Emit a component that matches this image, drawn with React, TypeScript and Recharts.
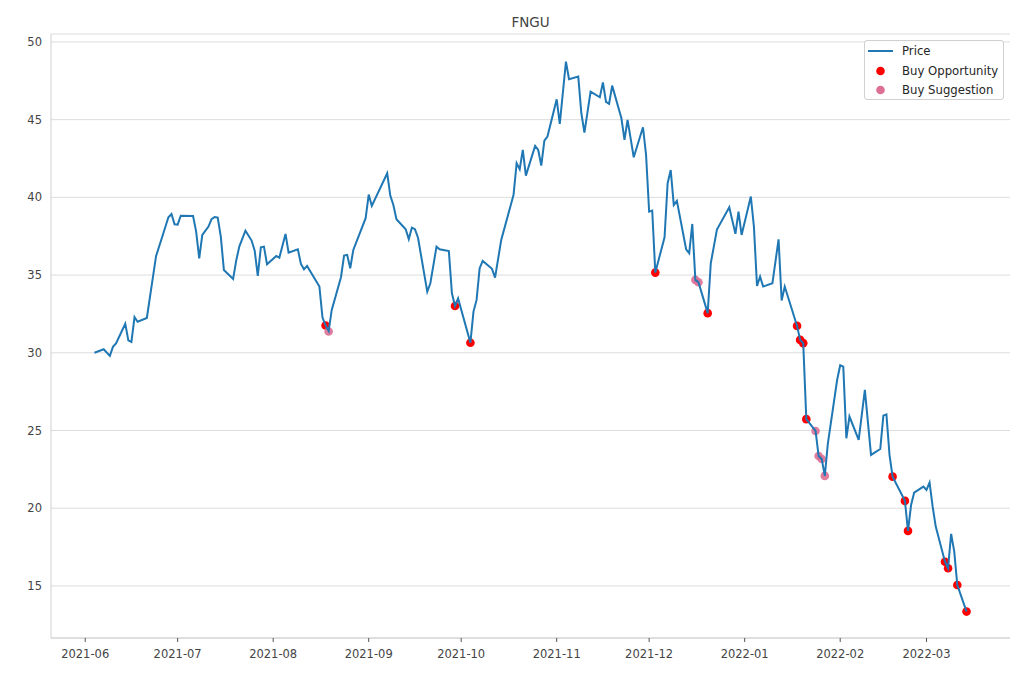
import React from "react";
import {
  ComposedChart,
  Line,
  XAxis,
  YAxis,
  CartesianGrid,
  Legend,
} from "recharts";

const priceDates = [
  "2021-06-04","2021-06-07","2021-06-09","2021-06-10","2021-06-11","2021-06-14","2021-06-15","2021-06-16","2021-06-17","2021-06-18",
  "2021-06-21","2021-06-24","2021-06-26","2021-06-28","2021-06-29","2021-06-30","2021-07-01","2021-07-02","2021-07-06","2021-07-07",
  "2021-07-08","2021-07-09","2021-07-11","2021-07-12","2021-07-13","2021-07-14","2021-07-15","2021-07-16","2021-07-19","2021-07-20",
  "2021-07-21","2021-07-23","2021-07-25","2021-07-26","2021-07-27","2021-07-28","2021-07-29","2021-07-30","2021-08-02","2021-08-03",
  "2021-08-05","2021-08-06","2021-08-09","2021-08-10","2021-08-11","2021-08-12","2021-08-16","2021-08-17","2021-08-18","2021-08-19",
  "2021-08-20","2021-08-23","2021-08-24","2021-08-25","2021-08-26","2021-08-27","2021-08-31","2021-09-01","2021-09-02","2021-09-07",
  "2021-09-08","2021-09-09","2021-09-10","2021-09-13","2021-09-14","2021-09-15","2021-09-16","2021-09-17","2021-09-20","2021-09-21",
  "2021-09-23","2021-09-24","2021-09-27","2021-09-28","2021-09-29","2021-09-30","2021-10-04","2021-10-05","2021-10-06","2021-10-07",
  "2021-10-08","2021-10-11","2021-10-12","2021-10-14","2021-10-18","2021-10-19","2021-10-20","2021-10-21","2021-10-22","2021-10-25",
  "2021-10-26","2021-10-27","2021-10-28","2021-10-29","2021-11-01","2021-11-02","2021-11-04","2021-11-05","2021-11-08","2021-11-09",
  "2021-11-10","2021-11-12","2021-11-15","2021-11-16","2021-11-17","2021-11-18","2021-11-19","2021-11-22","2021-11-23","2021-11-24",
  "2021-11-26","2021-11-29","2021-11-30","2021-12-01","2021-12-02","2021-12-03","2021-12-06","2021-12-07","2021-12-08","2021-12-09",
  "2021-12-10","2021-12-13","2021-12-14","2021-12-15","2021-12-16","2021-12-17","2021-12-20","2021-12-21","2021-12-23","2021-12-27",
  "2021-12-29","2021-12-30","2021-12-31","2022-01-03","2022-01-04","2022-01-05","2022-01-06","2022-01-07","2022-01-10","2022-01-12",
  "2022-01-13","2022-01-14","2022-01-18","2022-01-19","2022-01-20","2022-01-21","2022-01-24","2022-01-25","2022-01-26","2022-01-27",
  "2022-01-28","2022-01-31","2022-02-01","2022-02-02","2022-02-03","2022-02-04","2022-02-07","2022-02-09","2022-02-11","2022-02-14",
  "2022-02-15","2022-02-16","2022-02-17","2022-02-18","2022-02-22","2022-02-23","2022-02-24","2022-02-25","2022-02-28","2022-03-01",
  "2022-03-02","2022-03-03","2022-03-04","2022-03-07","2022-03-08","2022-03-09","2022-03-10","2022-03-11","2022-03-14",
];

const priceValues = [
  30.0, 30.23, 29.8, 30.38, 30.6, 31.87, 30.8, 30.7, 32.3, 32.0,
  32.24, 36.23, 37.47, 38.72, 38.93, 38.27, 38.25, 38.82, 38.8, 37.8,
  36.08, 37.58, 38.12, 38.6, 38.74, 38.7, 37.47, 35.33, 34.75, 35.93,
  36.83, 37.86, 37.22, 36.57, 34.94, 36.79, 36.83, 35.7, 36.23, 36.12,
  37.65, 36.44, 36.66, 35.72, 35.37, 35.59, 34.26, 32.27, 31.76, 31.4,
  32.76, 34.86, 36.25, 36.3, 35.44, 36.62, 38.66, 40.18, 39.45, 41.55,
  40.11, 39.51, 38.59, 37.95, 37.31, 38.05, 37.95, 37.4, 33.93, 34.47,
  36.83, 36.66, 36.55, 33.83, 33.01, 33.5, 30.65, 32.65, 33.4, 35.44,
  35.91, 35.4, 34.84, 37.26, 40.16, 42.2, 41.81, 43.05, 41.4, 43.31,
  43.05, 42.04, 43.65, 43.91, 46.31, 44.72, 48.73, 47.6, 47.77, 45.41,
  44.17, 46.8, 46.44, 47.4, 46.14, 46.01, 47.19, 45.09, 43.7, 44.98,
  42.58, 44.51, 42.73, 39.08, 39.15, 35.16, 37.43, 40.91, 41.76, 39.51,
  39.77, 36.66, 36.41, 38.29, 34.69, 34.54, 32.55, 35.76, 37.93, 39.36,
  37.65, 39.08, 37.58, 40.05, 38.12, 34.3, 34.9, 34.26, 34.47, 37.3,
  33.36, 34.26, 31.73, 30.83, 30.62, 25.73, 24.97, 23.36, 23.17, 22.08,
  24.18, 28.25, 29.2, 29.11, 24.5, 25.9, 24.39, 27.61, 23.43, 23.81,
  25.96, 26.04, 23.43, 22.03, 20.47, 18.54, 20.21, 21.0, 21.39, 21.18,
  21.65, 20.1, 18.82, 16.56, 16.14, 18.35, 17.22, 15.06, 13.35,
];

const opportunityDates = [
  "2021-08-18","2021-09-29","2021-10-04","2021-12-03","2021-12-20","2022-01-18","2022-01-19","2022-01-20",
  "2022-01-21","2022-02-18","2022-02-22","2022-02-23","2022-03-07","2022-03-08","2022-03-11","2022-03-14",
];
const opportunityValues = [
  31.76, 33.01, 30.65, 35.16, 32.55, 31.73, 30.83, 30.62,
  25.73, 22.03, 20.47, 18.54, 16.56, 16.14, 15.06, 13.35,
];

const suggestionDates = [
  "2021-08-19","2021-12-16","2021-12-17","2022-01-24","2022-01-25","2022-01-26","2022-01-27",
];
const suggestionValues = [31.37, 34.69, 34.54, 24.97, 23.36, 23.17, 22.08];

const xTickLabels = [
  "2021-06","2021-07","2021-08","2021-09","2021-10","2021-11","2021-12","2022-01","2022-02","2022-03",
];
const yTicks = [15, 20, 25, 30, 35, 40, 45, 50];

const DAY = 86400000;
const toTime = (d: string) => Date.parse(d);
const base = Date.parse("2021-06-01");
const xDomain = [base - 11.1 * DAY, base + 300.1 * DAY];
const yDomain = [11.65, 50.51];
const xTicks = xTickLabels.map((l) => Date.parse(l + "-01"));

const priceData = priceDates.map((d, i) => ({ t: toTime(d), price: priceValues[i] }));
const oppData = opportunityDates.map((d, i) => ({ t: toTime(d), price: opportunityValues[i] }));
const sugData = suggestionDates.map((d, i) => ({ t: toTime(d), price: suggestionValues[i] }));

const fmtMonth = (v: number) => {
  const dt = new Date(v);
  const m = dt.getUTCMonth() + 1;
  return `${dt.getUTCFullYear()}-${m < 10 ? "0" + m : m}`;
};

const FONT = "DejaVu Sans, sans-serif";
const TEXT = "#444444";
const LINE_COLOR = "#1f77b4";
const OPP_COLOR = "#ff0000";
const SUG_COLOR = "#db7093";

const dot = (color: string, opacity: number) => (props: any) => (
  <circle key={props.index} cx={props.cx} cy={props.cy} r={4.3} fill={color} fillOpacity={opacity} stroke="none" />
);

const LegendBox = () => (
  <div
    style={{
      boxSizing: "border-box",
      width: 140,
      height: 60,
      border: "1px solid #d0d0d0",
      borderRadius: 3,
      background: "rgba(255,255,255,0.85)",
      fontFamily: FONT,
      fontSize: 11.7,
      color: "#262626",
      position: "relative",
    }}
  >
    <svg width={140} height={60} style={{ position: "absolute", left: 0, top: 0 }}>
      <line x1={3} y1={10} x2={28} y2={10} stroke={LINE_COLOR} strokeWidth={2} />
      <circle cx={15.5} cy={30} r={4.3} fill={OPP_COLOR} />
      <circle cx={15.5} cy={49} r={4.3} fill={SUG_COLOR} />
      <text x={37} y={14.2} fontFamily={FONT} fontSize={11.7} fill="#262626">Price</text>
      <text x={37} y={34} fontFamily={FONT} fontSize={11.7} fill="#262626">Buy Opportunity</text>
      <text x={37} y={53} fontFamily={FONT} fontSize={11.7} fill="#262626">Buy Suggestion</text>
    </svg>
  </div>
);

export default function App() {
  return (
    <div style={{ position: "absolute", left: 0, top: 0, width: 1020, height: 680, background: "#fff" }}>
      <ComposedChart
        width={1020}
        height={680}
        margin={{ top: 34, right: 10, bottom: 12, left: 0 }}
        style={{ fontFamily: FONT }}
      >
        <text x={530.5} y={27} textAnchor="middle" fontFamily={FONT} fontSize={13.5} fill={TEXT}>
          FNGU
        </text>
        <CartesianGrid horizontal={true} vertical={false} stroke="#dddddd" strokeWidth={1} />
        <XAxis
          dataKey="t"
          type="number"
          domain={xDomain}
          allowDataOverflow
          ticks={xTicks}
          tickFormatter={fmtMonth}
          height={30}
          tickSize={4}
          tickMargin={8}
          tick={{ fill: TEXT, fontSize: 11.5, fontFamily: FONT }}
          tickLine={{ stroke: "#555555" }}
          axisLine={{ stroke: "#d0d0d0" }}
        />
        <XAxis
          xAxisId="top"
          orientation="top"
          type="number"
          domain={xDomain}
          allowDataOverflow
          height={0}
          tick={false}
          tickLine={false}
          axisLine={{ stroke: "#d0d0d0" }}
        />
        <YAxis
          type="number"
          domain={yDomain}
          allowDataOverflow
          ticks={yTicks}
          width={51}
          tickSize={4}
          tickMargin={5}
          tickLine={false}
          tick={{ fill: TEXT, fontSize: 11.5, fontFamily: FONT }}
          axisLine={{ stroke: "#d0d0d0" }}
        />
        <YAxis
          yAxisId="right"
          orientation="right"
          type="number"
          domain={yDomain}
          allowDataOverflow
          width={0}
          tick={false}
          tickLine={false}
          axisLine={{ stroke: "#d0d0d0" }}
        />
        <Line
          name="Buy Opportunity"
          data={oppData}
          dataKey="price"
          type="linear"
          stroke="none"
          strokeWidth={0}
          dot={dot(OPP_COLOR, 1)}
          activeDot={false}
          legendType="circle"
          isAnimationActive={false}
          {...({ zIndex: 300 } as any)}
        />
        <Line
          name="Buy Suggestion"
          data={sugData}
          dataKey="price"
          type="linear"
          stroke="none"
          strokeWidth={0}
          dot={dot(SUG_COLOR, 0.9)}
          activeDot={false}
          legendType="circle"
          isAnimationActive={false}
          {...({ zIndex: 300 } as any)}
        />
        <Line
          name="Price"
          data={priceData}
          dataKey="price"
          type="linear"
          stroke={LINE_COLOR}
          strokeWidth={2}
          dot={false}
          activeDot={false}
          isAnimationActive={false}
          {...({ zIndex: 1200 } as any)}
        />
        <Legend
          layout="horizontal"
          verticalAlign="middle"
          align="center"
          wrapperStyle={{ position: "absolute", left: 864, top: 40, width: 140, height: 60 }}
          content={() => <LegendBox />}
        />
      </ComposedChart>
    </div>
  );
}
